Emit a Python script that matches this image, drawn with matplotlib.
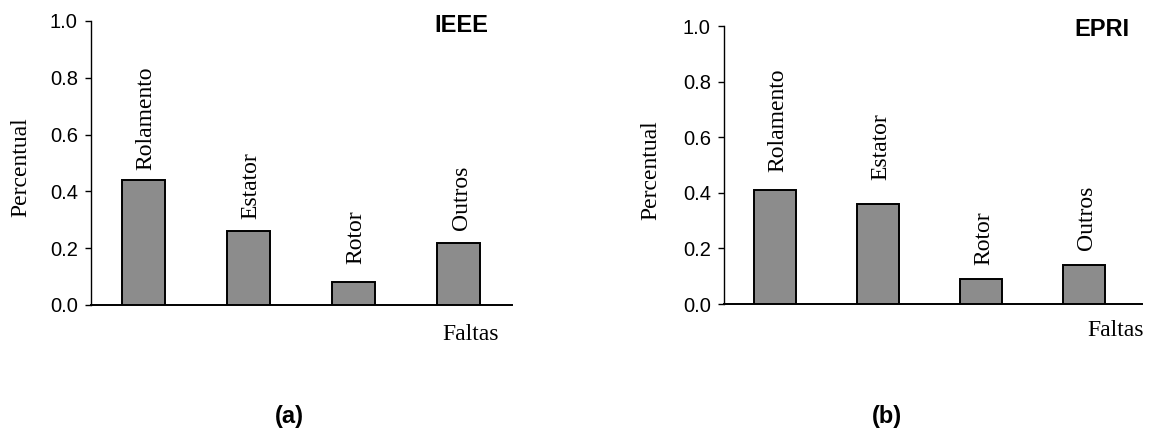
import matplotlib
matplotlib.use("Agg")
import matplotlib.pyplot as plt

categories = ["Rolamento", "Estator", "Rotor", "Outros"]
ieee_values = [0.44, 0.26, 0.08, 0.22]
epri_values = [0.41, 0.36, 0.09, 0.14]
yticks = [0.0, 0.2, 0.4, 0.6, 0.8, 1.0]
panel_titles = ["IEEE", "EPRI"]
panel_tags = ["(a)", "(b)"]
ylabel = "Percentual"
xlabel = "Faltas"

SERIF = ["Liberation Serif", "DejaVu Serif"]
SANS = ["Liberation Sans", "DejaVu Sans"]

fig = plt.figure(figsize=(11.51, 4.32), dpi=100)

# layout (figure fractions)
axes_rects = [
    [91 / 1151, 127 / 432, (512 - 91) / 1151, (305 - 21) / 432],
    [724 / 1151, 128 / 432, (1142 - 724) / 1151, (304 - 26) / 432],
]
xlims = [(-0.50, 3.51), (-0.50, 3.565)]
label_offsets = [[7, 9, 13, 9], [13, 17, 10, 11]]
title_pos = [(461 / 1151, 1 - 25 / 432), (1102 / 1151, 1 - 30 / 432)]
ylabel_pos = [(21 / 1151, 1 - 167 / 432), (651 / 1151, 1 - 170 / 432)]
xlabel_pos = [(471 / 1151, 1 - 334 / 432), (1116 / 1151, 1 - 331 / 432)]
tag_pos = [(289 / 1151, 1 - 416 / 432), (887 / 1151, 1 - 416 / 432)]

for i, vals in enumerate([ieee_values, epri_values]):
    ax = fig.add_axes(axes_rects[i])
    xs = list(range(len(categories)))
    ax.bar(xs, vals, width=0.41, color="#8c8c8c", edgecolor="black",
           linewidth=1.4, zorder=3)
    for x, v, lab, off in zip(xs, vals, categories, label_offsets[i]):
        ax.annotate(lab, (x, v), xytext=(2, off), textcoords="offset points",
                    rotation=90, ha="center", va="bottom",
                    fontsize=17, family=SERIF)
    ax.set_xlim(*xlims[i])
    ax.set_ylim(0, 1.0)
    ax.set_yticks(yticks)
    ax.set_yticklabels([f"{t:.1f}" for t in yticks], family=SANS, fontsize=14.5)
    ax.set_xticks([])
    ax.spines["top"].set_visible(False)
    ax.spines["right"].set_visible(False)
    ax.spines["left"].set_linewidth(1.0)
    ax.spines["bottom"].set_linewidth(1.4)
    ax.tick_params(axis="y", direction="out", length=4.5, width=1.0, pad=5)
    ax.patch.set_visible(False)

    fig.text(*title_pos[i], panel_titles[i], ha="center", va="center",
             fontsize=17, fontweight="bold", family=SANS)
    fig.text(*ylabel_pos[i], ylabel, rotation=90, ha="center", va="center",
             fontsize=17, family=SERIF)
    fig.text(*xlabel_pos[i], xlabel, ha="center", va="center",
             fontsize=17, family=SERIF)
    fig.text(*tag_pos[i], panel_tags[i], ha="center", va="center",
             fontsize=17, fontweight="bold", family=SANS)

fig.savefig("out.png", dpi=100)
